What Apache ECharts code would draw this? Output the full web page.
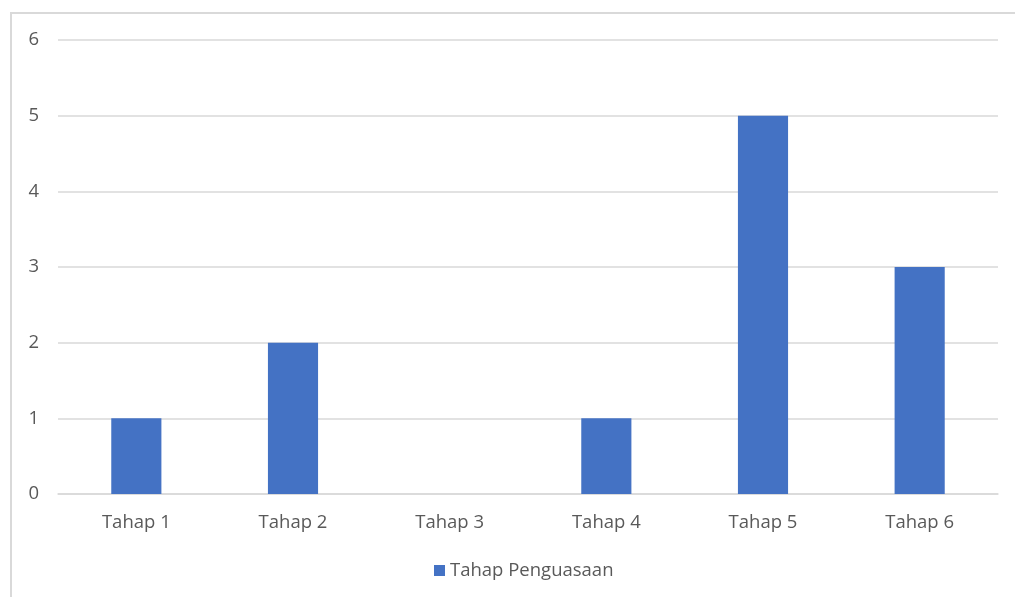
<!DOCTYPE html>
<html><head><meta charset="utf-8">
<script src="https://cdn.jsdelivr.net/npm/echarts@6/dist/echarts.min.js"></script>
<style>html,body{margin:0;padding:0;background:#fff}#c{width:1015px;height:597px}</style>
</head><body><div id="c"></div>
<script>
const categories = ['Tahap 1','Tahap 2','Tahap 3','Tahap 4','Tahap 5','Tahap 6'];
const seriesName = 'Tahap Penguasaan';
const values = [1, 2, 0, 1, 5, 3];
const chart = echarts.init(document.getElementById('c'), null, {renderer:'canvas'});
const font = 'Segoe UI, "Open Sans", "Noto Sans", sans-serif';
chart.setOption({
  animation:false,
  backgroundColor:'#fff',
  graphic:[{type:'rect', shape:{x:11, y:13, width:1020, height:600}, style:{fill:'none', stroke:'#d9d9d9', lineWidth:2}, silent:true}],
  grid:{left:58, right:17, top:40, bottom:103, containLabel:false},
  legend:{bottom:12, left:429, itemWidth:11, itemHeight:11, icon:'rect', itemGap:8,
    textStyle:{color:'#595959', fontSize:18.5, fontFamily:font}, data:[seriesName]},
  xAxis:{type:'category', data:categories,
    axisLine:{lineStyle:{color:'#d9d9d9', width:1.5}}, axisTick:{show:false},
    axisLabel:{color:'#595959', fontSize:18.5, fontFamily:font, margin:19}},
  yAxis:{type:'value', min:0, max:6, interval:1,
    axisLine:{show:false}, axisTick:{show:false},
    splitLine:{lineStyle:{color:'#d9d9d9', width:1.5}},
    axisLabel:{color:'#595959', fontSize:18.5, fontFamily:font, margin:19}},
  series:[{name:seriesName, type:'bar', data:values, barWidth:'32%', itemStyle:{color:'#4472c4'}}]
});
</script></body></html>
